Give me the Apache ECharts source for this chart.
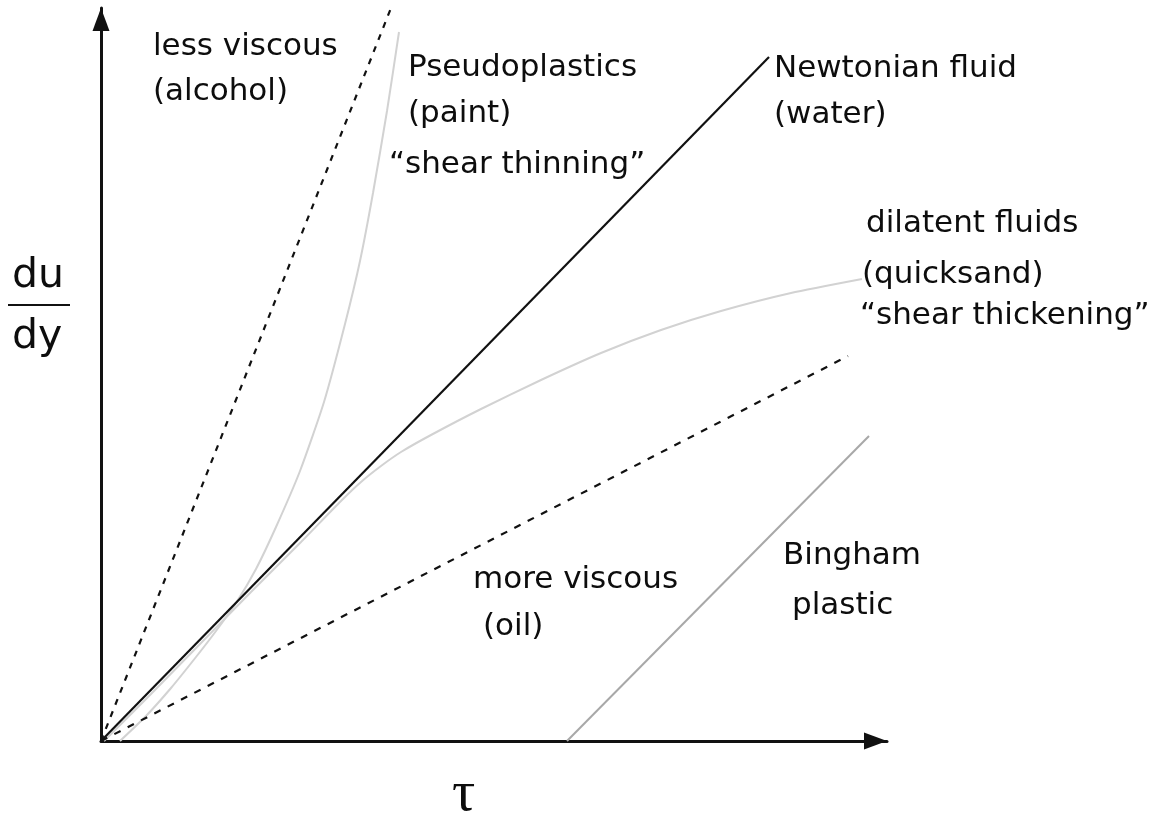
<!DOCTYPE html>
<html>
<head>
<meta charset="utf-8">
<script src="https://cdn.jsdelivr.net/npm/echarts@6/dist/echarts.min.js"></script>
<style>
    html, body { margin: 0; padding: 0; background: #fff; }
    #main { width: 1169px; height: 815px; }
</style>
</head>
<body>
<div id="main"></div>
<script>
// values (τ along x, du/dy along y, arbitrary units)
var lessViscous = [[0, 0], [290, 733]];
var pseudoplastic = [[19, 0], [45, 25], [70, 53], [95, 84], [115, 110], [135, 138],
    [155, 172], [175, 214], [199, 270], [223, 339], [244, 417], [259, 480],
    [272, 548], [286, 630], [298, 709]];
var newtonian = [[0, 0], [668, 684]];
var dilatent = [[3, 0], [50, 47], [100, 98], [150, 149], [200, 199], [240, 240],
    [260, 259], [280, 275], [300, 289], [330, 306], [380, 332], [440, 361],
    [500, 388], [560, 411], [620, 430], [690, 448], [761, 462]];
var moreViscous = [[0, 0], [747, 385]];
var bingham = [[466, 0], [768, 305]];

var labelFont = 'DejaVu Sans';

function txt(s, x, y, size, family) {
    return {
        type: 'text',
        x: x,
        y: y,
        style: {
            text: s,
            fill: '#0d0d0d',
            font: size + 'px "' + (family || labelFont) + '"',
            textVerticalAlign: 'middle'
        }
    };
}

var dom = document.getElementById('main');
var myChart = echarts.init(dom, null, {
    renderer: 'canvas',
    useDirtyRect: false
});

var axisCommon = {
    type: 'value',
    min: 0,
    splitLine: { show: false },
    axisTick: { show: false },
    axisLabel: { show: false },
    axisLine: {
        show: true,
        symbol: ['none', 'triangle'],
        symbolSize: [17, 23],
        symbolOffset: [0, -11.5],
        lineStyle: { color: '#111', width: 3 }
    }
};

var option = {
    backgroundColor: '#fff',
    animation: false,
    grid: {
        left: 101,
        right: 282,
        top: 8,
        bottom: 74
    },
    xAxis: Object.assign({}, axisCommon, { max: 786 }),
    yAxis: Object.assign({}, axisCommon, { max: 733 }),
    series: [
        {
            name: 'less viscous',
            type: 'line',
            data: lessViscous,
            showSymbol: false,
            clip: false,
            lineStyle: { color: '#111', width: 2.2, type: [6, 7] }
        },
        {
            name: 'Pseudoplastics',
            type: 'line',
            data: pseudoplastic,
            showSymbol: false,
            smooth: 0.2,
            lineStyle: { color: '#d2d2d2', width: 2 }
        },
        {
            name: 'dilatent',
            type: 'line',
            data: dilatent,
            showSymbol: false,
            smooth: 0.2,
            lineStyle: { color: '#d2d2d2', width: 2 }
        },
        {
            name: 'Newtonian',
            type: 'line',
            data: newtonian,
            showSymbol: false,
            lineStyle: { color: '#111', width: 2.2 }
        },
        {
            name: 'more viscous',
            type: 'line',
            data: moreViscous,
            showSymbol: false,
            lineStyle: { color: '#111', width: 2.2, type: [7, 8] }
        },
        {
            name: 'Bingham',
            type: 'line',
            data: bingham,
            showSymbol: false,
            lineStyle: { color: '#a8a8a8', width: 2 }
        }
    ],
    graphic: [
        txt('less viscous', 153, 47, 31),
        txt('(alcohol)', 153, 92, 31),
        txt('Pseudoplastics', 408, 68, 31),
        txt('(paint)', 408, 114, 31),
        txt('\u201Cshear thinning\u201D', 389, 165, 31),
        txt('Newtonian fluid', 774, 69, 31),
        txt('(water)', 774, 115, 31),
        txt('dilatent fluids', 866, 224, 31),
        txt('(quicksand)', 862, 275, 31),
        txt('\u201Cshear thickening\u201D', 860, 316, 31),
        txt('more viscous', 473, 580, 31),
        txt('(oil)', 483, 627, 31),
        txt('Bingham', 783, 556, 31),
        txt('plastic', 792, 606, 31),
        txt('du', 12, 276, 41),
        {
            type: 'rect',
            shape: { x: 8, y: 304, width: 62, height: 2 },
            style: { fill: '#111' }
        },
        txt('dy', 12, 337, 41),
        txt('\u03C4', 452, 795, 58, 'Liberation Serif')
    ]
};

if (option && typeof option === 'object') {
    myChart.setOption(option);
}

window.addEventListener('resize', myChart.resize);
</script>
</body>
</html>
